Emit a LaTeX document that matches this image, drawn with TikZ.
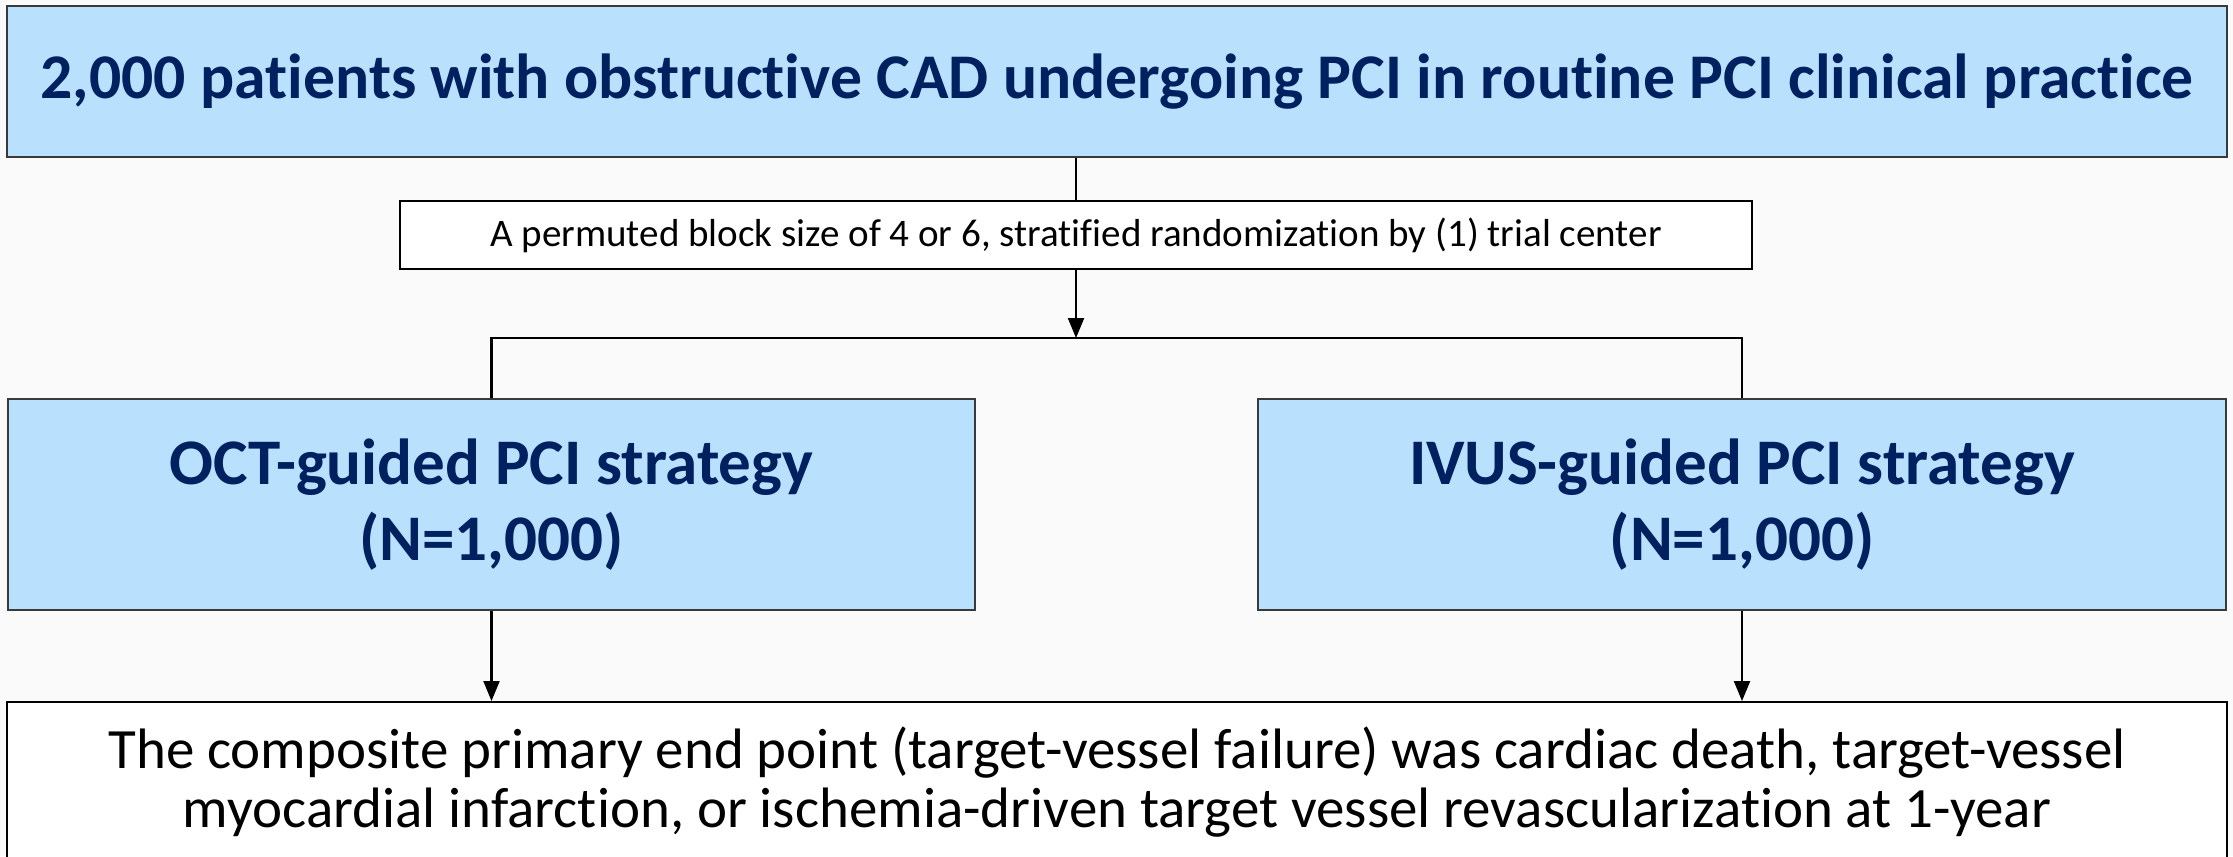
\documentclass[tikz,border=0pt]{standalone}
\usepackage{fontspec}
\setmainfont[Ligatures=NoCommon]{Carlito}
\usetikzlibrary{arrows.meta}

\definecolor{canvas}{HTML}{FAFAFA}
\definecolor{armfill}{HTML}{B9E0FD}
\definecolor{navy}{HTML}{002060}
\definecolor{edge}{HTML}{3A3A3A}

\tikzset{
  bluebox/.style={draw=edge, fill=armfill, line width=0.55pt, inner sep=0pt,
    text=navy, align=center},
  plainbox/.style={draw=black, fill=white, line width=0.55pt, inner sep=0pt,
    text=black, align=center},
  link/.style={draw=black, line width=0.6pt},
  flow/.style={link, -{Triangle[length=0.2cm,width=0.16cm]}},
}

\begin{document}
\begin{tikzpicture}[x=0.01cm, y=-0.01cm]
  % canvas, 2233 x 856 units
  \fill[canvas] (0,0) rectangle (2233,856);
  \useasboundingbox (0,0) rectangle (2233,856);
  \clip (0,0) rectangle (2233,856);

  % population
  \node[bluebox, minimum width=22.18cm, minimum height=1.51cm,
        font=\fontsize{18.1}{21}\bfseries\selectfont] (pop) at (1117,81.5)
    {2,000 patients with obstructive CAD undergoing PCI in routine PCI clinical practice};

  % randomization
  \node[plainbox, minimum width=13.52cm, minimum height=0.68cm,
        font=\fontsize{11.1}{13}\selectfont] (rand) at (1076,235)
    {A permuted block size of 4 or 6, stratified randomization by (1) trial center};

  % treatment arms
  \node[bluebox, minimum width=9.67cm, minimum height=2.11cm,
        font=\fontsize{18.5}{21.8}\bfseries\selectfont] (oct) at (491.5,504.5)
    {OCT-guided PCI strategy\\(N=1,000)};
  \node[bluebox, minimum width=9.68cm, minimum height=2.11cm,
        font=\fontsize{18.5}{21.8}\bfseries\selectfont] (ivus) at (1742,504.5)
    {IVUS-guided PCI strategy\\(N=1,000)};

  % primary end point (box runs past the lower edge)
  \node[plainbox, minimum width=22.18cm, minimum height=1.60cm,
        font=\fontsize{16.2}{16.8}\selectfont] (endpt) at (1117,782)
    {The composite primary end point (target-vessel failure) was cardiac death, target-vessel\\
     myocardial infarction, or ischemia-driven target vessel revascularization at 1-year};

  % connectors
  \coordinate (split) at (1076,338);
  \draw[link] (rand.north |- pop.south) -- (rand.north);
  \draw[flow] (rand.south) -- (split);
  \draw[link] (oct.north) -- (oct.north |- split) -- (ivus.north |- split) -- (ivus.north);
  \draw[flow] (oct.south) -- (oct.south |- endpt.north);
  \draw[flow] (ivus.south) -- (ivus.south |- endpt.north);
\end{tikzpicture}
\end{document}
